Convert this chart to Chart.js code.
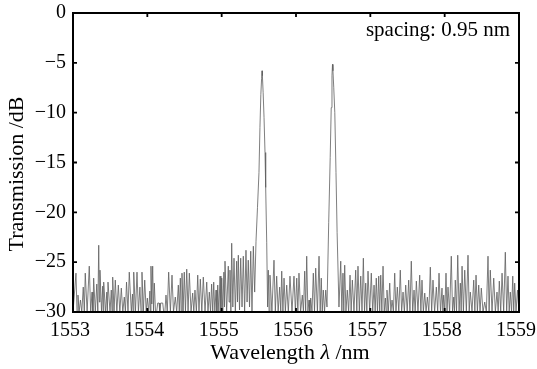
<!DOCTYPE html>
<html><head><meta charset="utf-8">
<script src="https://cdn.jsdelivr.net/npm/chart.js@4.4.1/dist/chart.umd.min.js"></script>
<style>html,body{margin:0;padding:0;background:#fff;}#wrap{width:537px;height:369px;}canvas{display:block;}</style>
</head><body>
<div id="wrap"><canvas id="c" width="537" height="369"></canvas></div>
<script>
// Wavelength (nm) and transmission (dB)
const wavelength = [
1553.000,1553.040,1553.054,1553.067,1553.082,1553.100,1553.118,1553.138,1553.152,1553.165,
1553.190,1553.219,1553.238,1553.256,1553.268,1553.278,1553.300,1553.320,1553.334,1553.346,
1553.355,1553.363,1553.384,1553.400,1553.406,1553.413,1553.438,1553.455,1553.462,1553.471,
1553.498,1553.515,1553.525,1553.534,1553.552,1553.569,1553.590,1553.610,1553.630,1553.650,
1553.670,1553.690,1553.705,1553.720,1553.740,1553.757,1553.785,1553.800,1553.808,1553.817,
1553.840,1553.861,1553.880,1553.900,1553.915,1553.928,1553.946,1553.965,1553.985,1554.000,
1554.018,1554.034,1554.042,1554.049,1554.060,1554.072,1554.083,1554.094,1554.110,1554.125,
1554.140,1554.158,1554.168,1554.180,1554.207,1554.220,1554.236,1554.251,1554.268,1554.287,
1554.310,1554.332,1554.352,1554.376,1554.395,1554.417,1554.430,1554.444,1554.455,1554.466,
1554.481,1554.497,1554.513,1554.530,1554.548,1554.565,1554.588,1554.610,1554.625,1554.641,
1554.660,1554.678,1554.695,1554.713,1554.733,1554.753,1554.776,1554.799,1554.816,1554.834,
1554.850,1554.865,1554.880,1554.893,1554.908,1554.924,1554.936,1554.947,1554.962,1554.978,
1554.990,1555.001,1555.015,1555.030,1555.038,1555.045,1555.067,1555.089,1555.100,1555.112,
1555.124,1555.135,1555.150,1555.166,1555.184,1555.202,1555.213,1555.224,1555.240,1555.256,
1555.274,1555.291,1555.309,1555.327,1555.342,1555.358,1555.375,1555.391,1555.408,1555.426,
1555.444,1555.462,1555.482,1555.502,1555.515,1555.527,1555.537,1555.543,1555.548,1555.558,
1555.570,1555.583,1555.592,1555.606,1555.618,1555.627,1555.638,1555.650,1555.676,1555.704,
1555.722,1555.740,1555.760,1555.780,1555.795,1555.808,1555.824,1555.839,1555.857,1555.875,
1555.897,1555.919,1555.946,1555.973,1555.992,1556.010,1556.025,1556.040,1556.062,1556.085,
1556.100,1556.117,1556.130,1556.144,1556.160,1556.175,1556.186,1556.198,1556.215,1556.233,
1556.249,1556.265,1556.288,1556.310,1556.325,1556.340,1556.353,1556.367,1556.384,1556.400,
1556.417,1556.440,1556.460,1556.474,1556.484,1556.491,1556.497,1556.508,1556.522,1556.538,
1556.553,1556.578,1556.602,1556.617,1556.632,1556.643,1556.655,1556.672,1556.690,1556.708,
1556.727,1556.742,1556.758,1556.780,1556.803,1556.818,1556.834,1556.852,1556.871,1556.888,
1556.906,1556.922,1556.938,1556.953,1556.969,1556.991,1557.013,1557.032,1557.050,1557.065,
1557.080,1557.096,1557.113,1557.126,1557.140,1557.155,1557.171,1557.187,1557.202,1557.213,
1557.224,1557.242,1557.261,1557.276,1557.292,1557.310,1557.328,1557.345,1557.363,1557.383,
1557.403,1557.421,1557.440,1557.458,1557.476,1557.496,1557.516,1557.533,1557.551,1557.570,
1557.588,1557.603,1557.619,1557.641,1557.664,1557.680,1557.695,1557.713,1557.732,1557.750,
1557.767,1557.787,1557.807,1557.825,1557.843,1557.865,1557.888,1557.906,1557.924,1557.944,
1557.964,1557.976,1557.987,1558.002,1558.018,1558.032,1558.045,1558.067,1558.089,1558.106,
1558.122,1558.132,1558.143,1558.160,1558.176,1558.194,1558.211,1558.222,1558.234,1558.252,
1558.270,1558.292,1558.314,1558.330,1558.345,1558.368,1558.391,1558.406,1558.422,1558.440,
1558.458,1558.476,1558.493,1558.516,1558.539,1558.561,1558.583,1558.598,1558.614,1558.637,
1558.660,1558.682,1558.704,1558.720,1558.735,1558.754,1558.772,1558.794,1558.816,1558.834,
1558.852,1558.868,1558.883,1558.900,1558.916,1558.929,1558.942,1558.960,1558.980,1559.000
];
const transmission = [
-30,-26.1,-30,-28.3,-30,-28.8,-30,-27.5,-30,-26.1,
-30,-25.4,-30,-28.0,-30,-26.6,-30,-27.2,-30,-23.3,
-29.0,-25.8,-30,-27.4,-30,-27.0,-30,-28.0,-30,-27.0,
-30,-27.8,-30,-26.5,-30,-26.8,-30,-27.3,-30,-27.6,
-30,-28.5,-30,-27.0,-30,-26.0,-30,-28.2,-30,-26.0,
-30,-26.0,-30,-27.5,-30,-26.0,-30,-26.8,-30,-28.6,
-30,-27.9,-30,-25.4,-29.2,-25.4,-30,-27.1,-30,-30,
-29.1,-29.1,-30,-29.1,-29.1,-30,-30,-28.3,-30,-26.0,
-30,-26.3,-30,-28.5,-30,-27.3,-30,-26.6,-30,-26.1,
-30,-26.0,-30,-25.7,-30,-26.1,-30,-28.1,-30,-27.8,
-30,-26.3,-30,-26.7,-30,-26.5,-30,-27.0,-30,-28.0,
-30,-27.2,-30,-27.0,-30,-27.8,-30,-27.3,-30,-26.4,
-30,-26.6,-30,-26.0,-29.5,-24.9,-30,-25.4,-29.0,-25.8,
-30,-23.1,-29.5,-24.6,-30,-24.9,-29.0,-24.3,-29.8,-24.6,
-29.5,-24.4,-30,-23.8,-29.0,-24.8,-29.5,-23.9,-30,-23.4,
-28.0,-22.9,-19.5,-16.0,-11.5,-8.2,-6.6,-5.8,-6.3,-8.0,
-10.5,-14.0,-17.5,-23.0,-29.5,-25.8,-30,-26.3,-30,-24.8,
-30,-26.4,-30,-27.5,-30,-25.9,-30,-26.6,-30,-27.3,
-30,-26.4,-30,-26.4,-30,-26.6,-30,-26.1,-30,-28.3,
-30,-25.9,-30,-24.4,-30,-28.8,-30,-28.6,-30,-26.1,
-30,-25.6,-30,-24.4,-30,-26.6,-30,-27.8,-30,-27.8,
-29.5,-21.0,-14.5,-9.5,-6.3,-5.15,-5.8,-7.5,-10.0,-16.0,
-22.0,-29.5,-24.9,-30,-26.1,-30,-25.3,-30,-27.8,-30,
-26.3,-30,-26.8,-30,-25.8,-30,-25.4,-30,-26.4,-30,
-24.6,-30,-27.1,-30,-25.9,-30,-26.1,-30,-27.3,-30,
-26.6,-30,-26.4,-30,-26.3,-30,-25.4,-30,-28.6,-30,
-27.8,-30,-27.1,-30,-28.8,-30,-26.1,-30,-27.5,-30,
-25.8,-30,-28.0,-30,-27.3,-30,-26.8,-30,-24.9,-30,
-27.8,-30,-26.9,-30,-26.3,-30,-26.8,-30,-28.1,-30,
-28.5,-30,-25.5,-30,-26.8,-30,-27.5,-30,-26.1,-30,
-27.6,-30,-28.3,-30,-26.1,-30,-27.5,-30,-24.4,-30,
-28.5,-30,-26.8,-30,-24.3,-30,-27.1,-30,-25.4,-30,
-25.8,-30,-24.3,-30,-28.0,-30,-26.8,-30,-26.3,-30,
-27.3,-30,-27.6,-30,-29.0,-30,-24.4,-30,-25.8,-30,
-26.6,-30,-28.0,-30,-26.9,-30,-26.1,-30,-24.0,-30,
-26.4,-30,-28.0,-30,-26.4,-30,-27.1,-30,-27.8,-30
];
const xTickValues = [1553, 1554, 1555, 1556, 1557, 1558, 1559];
const yTickValues = [0, -5, -10, -15, -20, -25, -30];
const xTitleParts = ['Wavelength ', 'λ', ' /nm'];
const yTitle = 'Transmission /dB';
const annotation = 'spacing: 0.95 nm';

const SERIF = '"Liberation Serif", "Times New Roman", serif';

const points = wavelength.map((w, i) => ({x: w, y: transmission[i]}));

const decor = {
  id: 'decor',
  afterDatasetsDraw(chart) {
    const {ctx, chartArea: a, scales} = chart;
    ctx.save();
    ctx.strokeStyle = '#000';
    ctx.lineWidth = 2;
    ctx.strokeRect(a.left, a.top, a.right - a.left, a.bottom - a.top);
    ctx.lineWidth = 1.8;
    ctx.beginPath();
    scales.x.ticks.forEach(t => {
      const p = scales.x.getPixelForValue(t.value);
      ctx.moveTo(p, a.bottom); ctx.lineTo(p, a.bottom - 4);
      ctx.moveTo(p, a.top); ctx.lineTo(p, a.top + 4);
    });
    scales.y.ticks.forEach(t => {
      const p = scales.y.getPixelForValue(t.value);
      ctx.moveTo(a.left, p); ctx.lineTo(a.left + 4, p);
      ctx.moveTo(a.right, p); ctx.lineTo(a.right - 4, p);
    });
    ctx.stroke();

    ctx.fillStyle = '#000';
    ctx.textBaseline = 'alphabetic';
    ctx.font = '21px ' + SERIF;
    ctx.textAlign = 'right';
    ctx.fillText(annotation, a.right - 9, a.top + 23);

    const fonts = ['22px ' + SERIF, 'italic 22px ' + SERIF, '22px ' + SERIF];
    let total = 0;
    const widths = xTitleParts.map((s, i) => { ctx.font = fonts[i]; const w = ctx.measureText(s).width; total += w; return w; });
    let x = 290 - total / 2;
    ctx.textAlign = 'left';
    xTitleParts.forEach((s, i) => { ctx.font = fonts[i]; ctx.fillText(s, x, 359); x += widths[i]; });

    ctx.save();
    ctx.translate(23, 174);
    ctx.rotate(-Math.PI / 2);
    ctx.font = '22px ' + SERIF;
    ctx.textAlign = 'center';
    ctx.fillText(yTitle, 0, 0);
    ctx.restore();
    ctx.restore();
  }
};

new Chart(document.getElementById('c'), {
  type: 'line',
  data: {
    datasets: [{
      data: points,
      borderColor: 'rgba(95,95,95,0.8)',
      borderWidth: 1,
      pointRadius: 0,
      tension: 0,
      fill: false
    }]
  },
  options: {
    responsive: false,
    animation: false,
    devicePixelRatio: 1,
    layout: {padding: {top: 13, right: 18, left: 0, bottom: 0}},
    plugins: {legend: {display: false}, tooltip: {enabled: false}},
    scales: {
      x: {
        type: 'linear', min: 1553, max: 1559,
        afterBuildTicks: s => { s.ticks = xTickValues.map(v => ({value: v})); },
        afterFit: s => { s.height = 57; s.paddingLeft = 0; s.paddingRight = 0; },
        grid: {display: true, drawOnChartArea: false, drawTicks: false},
        border: {display: false},
        ticks: {color: '#000', font: {family: SERIF, size: 20}, padding: 7, maxRotation: 0, autoSkip: false,
                labelOffset: -3, callback: v => String(v)}
      },
      y: {
        type: 'linear', min: -30, max: 0,
        afterBuildTicks: s => { s.ticks = yTickValues.map(v => ({value: v})); },
        afterFit: s => { s.width = 73; s.paddingTop = 0; s.paddingBottom = 0; },
        grid: {display: true, drawOnChartArea: false, drawTicks: false},
        border: {display: false},
        ticks: {color: '#000', font: {family: SERIF, size: 20}, padding: 7, autoSkip: false,
                callback: v => String(v).replace('-', '\u2212')}
      }
    }
  },
  plugins: [decor]
});
</script>
</body></html>
